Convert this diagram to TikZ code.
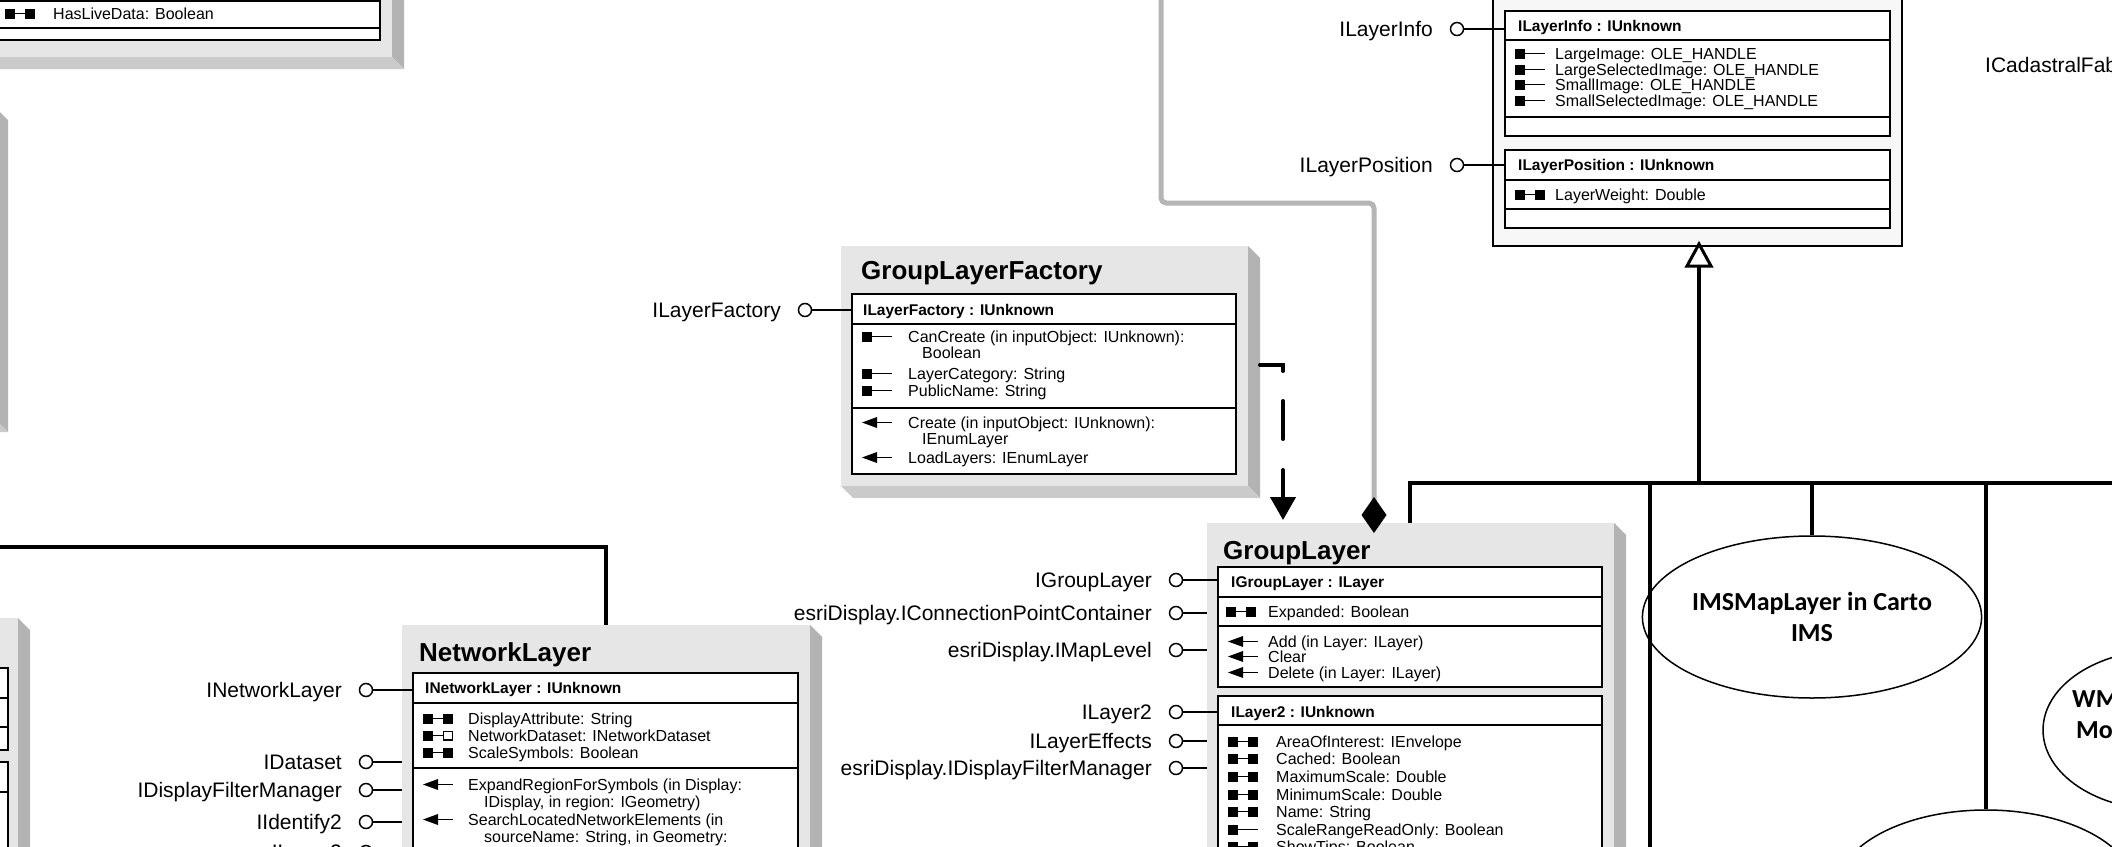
\documentclass[tikz,border=0pt]{standalone}
\usepackage{fontspec}
\setmainfont{Liberation Sans}
\newfontfamily\ellfont{Carlito}
\usetikzlibrary{arrows.meta,shapes.geometric}
\definecolor{facegray}{HTML}{E6E6E6}
\definecolor{bandR}{HTML}{B3B3B3}
\definecolor{bandB}{HTML}{CACACA}
\definecolor{conngray}{HTML}{B5B5B5}
\definecolor{outerfill}{HTML}{F7F7F7}
\tikzset{
 face/.style={fill=facegray, draw=none, inner sep=0pt, outer sep=0pt},
 ibox/.style={draw=black, line width=1.8pt, fill=white, inner sep=0pt, outer sep=0pt},
 sepl/.style={line width=1.8pt},
 lolc/.style={circle, draw=black, line width=1.5pt, fill=white, minimum size=13pt, inner sep=0pt},
 lolline/.style={line width=1.6pt},
 lbl/.style={font=\fontsize{21}{24}\selectfont, anchor=base east, inner sep=0pt},
 itm/.style={font=\fontsize{16}{18}\selectfont, anchor=base west, inner sep=0pt},
 hdr/.style={font=\bfseries\fontsize{15.5}{18}\selectfont, anchor=base west, inner sep=0pt},
 ttl/.style={font=\bfseries\fontsize{26}{29}\selectfont, anchor=base west, inner sep=0pt},
 tree/.style={line width=4.5pt, line join=miter},
 comp/.style={line width=5pt, draw=conngray, line join=round, rounded corners=5pt},
 ellnode/.style={ellipse, draw=black, line width=1.5pt, fill=white, inner sep=0pt, align=center, font=\ellfont\bfseries\fontsize{26}{31}\selectfont},
}
% shadowed face: name, x1, y1, x2, y2 (pixel coords, y downward)
\newcommand\shadowface[5]{%
 \fill[bandR] (#4,#3) -- (#4+12,#3+12) -- (#4+12,#5+12) -- (#4,#5) -- cycle;
 \fill[bandB] (#2,#5) -- (#2+12,#5+12) -- (#4+12,#5+12) -- (#4,#5) -- cycle;
 \node[face, anchor=north west, minimum width={(#4)-(#2)}, minimum height={(#5)-(#3)}] (#1) at (#2,#3) {};}
\newcommand\innerbox[5]{%
 \node[ibox, anchor=north west, minimum width={(#4)-(#2)}, minimum height={(#5)-(#3)}] (#1) at (#2,#3) {};}
\newcommand\sepat[2]{\draw[sepl] (#1.west |- 0,#2) -- (#1.east |- 0,#2);}
% lollipop: name, cx, y, target node, label
\newcommand\lolli[5]{%
 \node[lolc] (#1c) at (#2,#3) {};
 \node[lbl] (#1t) at (#2-24,#3+7) {#5};
 \draw[lolline] (#1c.east) -- (#1c.east -| #4.west);}
% icons at (x, baseline)
\newcommand\icGS[2]{\fill (#1,#2-10.5) rectangle (#1+10,#2-0.5); \fill (#1+20,#2-10.5) rectangle (#1+30,#2-0.5); \draw[line width=1.8pt] (#1+9,#2-5.5) -- (#1+21,#2-5.5);}
\newcommand\icGR[2]{\fill (#1,#2-10.5) rectangle (#1+10,#2-0.5); \draw[line width=1.4pt] (#1+20.7,#2-9.8) rectangle (#1+29.3,#2-1.2); \draw[line width=1.8pt] (#1+9,#2-5.5) -- (#1+20,#2-5.5);}
\newcommand\icG[2]{\fill (#1,#2-10.5) rectangle (#1+10,#2-0.5); \draw[line width=1.8pt] (#1+9,#2-5.5) -- (#1+30,#2-5.5);}
\newcommand\icM[2]{\fill (#1,#2-5.5) -- (#1+15,#2-11) -- (#1+15,#2) -- cycle; \draw[line width=1.8pt] (#1+12,#2-5.5) -- (#1+30,#2-5.5);}

\begin{document}
\begin{tikzpicture}[x=1pt,y=-1pt]
\path[use as bounding box, fill=white] (0,0) rectangle (2112,846);
\clip (0,0) rectangle (2112,846);

% ---------- faces ----------
\shadowface{faceTL}{-30}{-30}{392}{57}
\shadowface{faceLM}{-100}{108}{-4}{420}
\shadowface{faceBL}{-100}{618}{18}{1000}
\shadowface{faceGLF}{841}{246}{1248}{486}
\shadowface{faceNL}{402}{625}{810}{1000}
\shadowface{faceGL}{1207}{523}{1614}{1000}
\node[draw=black, line width=2pt, fill=outerfill, anchor=north west, minimum width=409pt, minimum height=256pt, inner sep=0pt, outer sep=0pt] (trOuter) at (1493,-10) {};

% ---------- inner boxes ----------
\innerbox{ibTL}{-30}{-30}{380}{40} \sepat{ibTL}{1} \sepat{ibTL}{28}
\innerbox{ibBL1}{-30}{668}{8}{750} \sepat{ibBL1}{698} \sepat{ibBL1}{727}
\innerbox{ibBL2}{-30}{762}{8}{1000} \sepat{ibBL2}{792}
\innerbox{ibGLF}{852}{294}{1236}{474} \sepat{ibGLF}{324} \sepat{ibGLF}{408}
\innerbox{ibNL}{413}{673}{798}{1000} \sepat{ibNL}{703} \sepat{ibNL}{768}
\innerbox{ibGL1}{1218}{567}{1602}{687} \sepat{ibGL1}{597} \sepat{ibGL1}{626}
\innerbox{ibGL2}{1218}{696}{1602}{1000} \sepat{ibGL2}{725}
\innerbox{ibInfo}{1505}{11}{1890}{136} \sepat{ibInfo}{40} \sepat{ibInfo}{117}
\innerbox{ibPos}{1505}{150}{1890}{228} \sepat{ibPos}{180} \sepat{ibPos}{209}

% ---------- ellipses ----------
\node[ellnode, minimum width=300pt, minimum height=162pt] (ims) at (1812,617) {IMSMapLayer in Carto\\IMS};
\node[ellnode, minimum width=240pt, minimum height=160pt] (wms) at (2163,730) {};
\node[ellnode, minimum width=300pt, minimum height=162pt] (ell3) at (1986,891) {};
\node[font=\ellfont\bfseries\fontsize{26}{31}\selectfont, anchor=base west, inner sep=0pt] (wmsA) at (2072,707) {WM};
\node[font=\ellfont\bfseries\fontsize{26}{31}\selectfont, anchor=base west, inner sep=0pt] (wmsB) at (2076,738) {Mo};

% ---------- connectors ----------
\coordinate (jT) at (1699,483);
\coordinate (trunkTop) at (1699,266);
\coordinate (jR) at (2130,483);
\coordinate (glTop) at (1410,523);
\coordinate (nlTop) at (606,625);
\coordinate (nlLeft) at (-10,547);
\draw[tree] (trunkTop) -- (jT);
\draw[line width=3pt, fill=white, line join=miter] (trOuter.south -| trunkTop) ++(0,-2) -- (1711,266) -- (1687,266) -- cycle;
\draw[tree] (glTop) -- (glTop |- jT) -- (jR);
\draw[tree] (1650,483) -- (1650,900);
\draw[tree] (ims.north |- jT) -- (ims.north);
\draw[tree] (ell3.north |- jT) -- (ell3.north);
\draw[tree] (nlLeft) -- (nlLeft -| nlTop) -- (nlTop);
\coordinate (compStart) at (1161,-10);
\coordinate (compEnd) at (1374,533);
\draw[comp, -{Diamond[length=36pt,width=25pt,color=black]}] (compStart) -- (1161,203) -- (1374,203) -- (compEnd);
\coordinate (dStart) at (1260,365);
\coordinate (dEnd) at (1283,520);
\draw[line width=4pt, line cap=round, dash pattern=on 29pt off 30pt on 38pt off 31pt on 200pt, -{Triangle[length=23pt,width=25pt]}] (dStart) -- (1283,365) -- (dEnd);

% ---------- lollipops ----------
\lolli{lfac}{805}{310}{ibGLF}{ILayerFactory}
\lolli{lgl}{1176}{580}{ibGL1}{IGroupLayer}
\lolli{lcpc}{1176}{613}{faceGL}{esriDisplay.IConnectionPointContainer}
\lolli{lml}{1176}{650}{faceGL}{esriDisplay.IMapLevel}
\lolli{ll2}{1176}{712}{ibGL2}{ILayer2}
\lolli{lle}{1176}{741}{faceGL}{ILayerEffects}
\lolli{ldf}{1176}{768}{faceGL}{esriDisplay.IDisplayFilterManager}
\lolli{lnl}{366}{690}{ibNL}{INetworkLayer}
\lolli{lds}{366}{762}{faceNL}{IDataset}
\lolli{ldfm}{366}{790}{faceNL}{IDisplayFilterManager}
\lolli{lid}{366}{822}{faceNL}{IIdentify2}
\lolli{lnl2}{366}{852}{faceNL}{ILayer2}
\lolli{linfo}{1457}{29}{ibInfo}{ILayerInfo}
\lolli{lpos}{1457}{165}{ibPos}{ILayerPosition}
\node[lbl, anchor=base west] (cadas) at (1985,72) {ICadastralFab};

% ---------- top-left box ----------
\icGS{5}{19} \node[itm] (tlA) at (53,19) {HasLiveData: Boolean};

% ---------- GroupLayerFactory ----------
\node[ttl] (tGLF) at (861,279) {GroupLayerFactory};
\node[hdr] (hGLF) at (863,315) {ILayerFactory : IUnknown};
\icG{862}{342} \node[itm] (f1) at (908,342) {CanCreate (in inputObject: IUnknown):};
\node[itm] (f1b) at (922,358) {Boolean};
\icG{862}{379} \node[itm] (f2) at (908,379) {LayerCategory: String};
\icG{862}{396} \node[itm] (f3) at (908,396) {PublicName: String};
\icM{862}{428} \node[itm] (f4) at (908,428) {Create (in inputObject: IUnknown):};
\node[itm] (f4b) at (922,444) {IEnumLayer};
\icM{862}{463} \node[itm] (f5) at (908,463) {LoadLayers: IEnumLayer};

% ---------- GroupLayer ----------
\node[ttl] (tGL) at (1223,559) {GroupLayer};
\node[hdr] (hGL1) at (1231,587) {IGroupLayer : ILayer};
\icGS{1226}{617} \node[itm] (g1) at (1268,617) {Expanded: Boolean};
\icM{1228}{647} \node[itm] (g2) at (1268,647) {Add (in Layer: ILayer)};
\icM{1228}{662} \node[itm] (g3) at (1268,662) {Clear};
\icM{1228}{678} \node[itm] (g4) at (1268,678) {Delete (in Layer: ILayer)};
\node[hdr] (hGL2) at (1231,717) {ILayer2 : IUnknown};
\icGS{1228}{747} \node[itm] (g5) at (1276,747) {AreaOfInterest: IEnvelope};
\icGS{1228}{764} \node[itm] (g6) at (1276,764) {Cached: Boolean};
\icGS{1228}{782} \node[itm] (g7) at (1276,782) {MaximumScale: Double};
\icGS{1228}{800} \node[itm] (g8) at (1276,800) {MinimumScale: Double};
\icGS{1228}{817} \node[itm] (g9) at (1276,817) {Name: String};
\icG{1228}{835} \node[itm] (g10) at (1276,835) {ScaleRangeReadOnly: Boolean};
\icGS{1228}{852} \node[itm] (g11) at (1276,852) {ShowTips: Boolean};

% ---------- NetworkLayer ----------
\node[ttl] (tNL) at (419,661) {NetworkLayer};
\node[hdr] (hNL) at (425,693) {INetworkLayer : IUnknown};
\icGS{423}{724} \node[itm] (n1) at (468,724) {DisplayAttribute: String};
\icGR{423}{741} \node[itm] (n2) at (468,741) {NetworkDataset: INetworkDataset};
\icGS{423}{758} \node[itm] (n3) at (468,758) {ScaleSymbols: Boolean};
\icM{423}{790} \node[itm] (n4) at (468,790) {ExpandRegionForSymbols (in Display:};
\node[itm] (n4b) at (484,807) {IDisplay, in region: IGeometry)};
\icM{423}{825} \node[itm] (n5) at (468,825) {SearchLocatedNetworkElements (in};
\node[itm] (n5b) at (484,842) {sourceName: String, in Geometry:};

% ---------- ILayerInfo / ILayerPosition ----------
\node[hdr] (hInfo) at (1518,31) {ILayerInfo : IUnknown};
\icG{1515}{59} \node[itm] (i1) at (1555,59) {LargeImage: OLE\_HANDLE};
\icG{1515}{75} \node[itm] (i2) at (1555,75) {LargeSelectedImage: OLE\_HANDLE};
\icG{1515}{90} \node[itm] (i3) at (1555,90) {SmallImage: OLE\_HANDLE};
\icG{1515}{106} \node[itm] (i4) at (1555,106) {SmallSelectedImage: OLE\_HANDLE};
\node[hdr] (hPos) at (1518,170) {ILayerPosition : IUnknown};
\icGS{1515}{200} \node[itm] (p1) at (1555,200) {LayerWeight: Double};
\end{tikzpicture}
\end{document}
